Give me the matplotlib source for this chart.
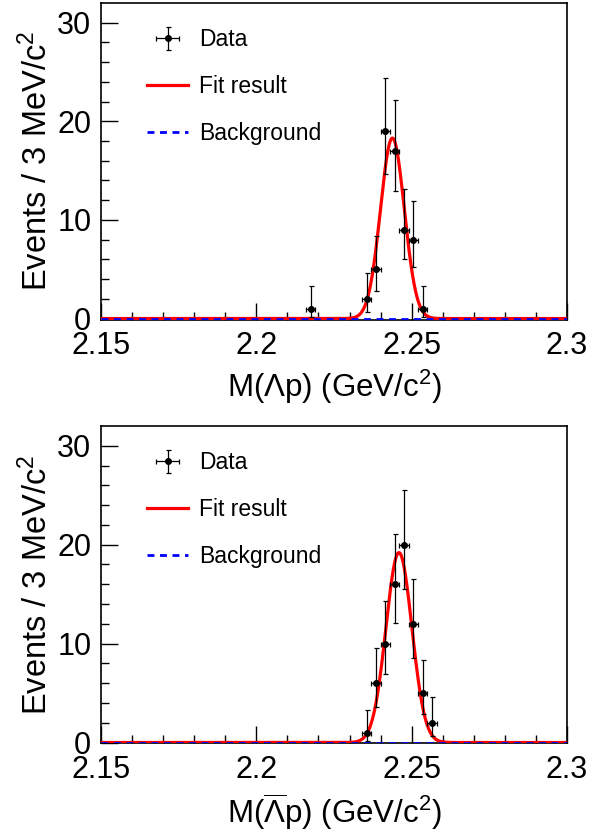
import math
import numpy as np
import matplotlib
matplotlib.use("Agg")
from matplotlib import pyplot as plt

plt.rcParams['font.family'] = ['Liberation Sans', 'DejaVu Sans']
plt.rcParams['mathtext.fontset'] = 'custom'
plt.rcParams['mathtext.rm'] = 'Liberation Sans'
plt.rcParams['mathtext.it'] = 'Liberation Sans:italic'

# bin centres (GeV) and counts, 3 MeV bins
x_top = [2.2175, 2.2355, 2.2385, 2.2415, 2.2445, 2.2475, 2.2505, 2.2535]
n_top = [1, 2, 5, 19, 17, 9, 8, 1]
x_bot = [2.2355, 2.2385, 2.2415, 2.2445, 2.2475, 2.2505, 2.2535, 2.2565]
n_bot = [1, 6, 10, 16, 20, 12, 5, 2]

# fitted gaussian: peak height, mean, sigma ; flat background
fit_top = (18.3, 2.2438, 0.00384)
fit_bot = (19.2, 2.2459, 0.00417)
bkg_top = 0.0
bkg_bot = 0.0

bin_w = 0.003
xlabels = ["M(Λp) (GeV/c$^{2}$)", r"M($\overline{\mathrm{Λ}}$p) (GeV/c$^{2}$)"]


def pois_cdf(n, mu):
    s = 0.0
    term = math.exp(-mu)
    for k in range(n + 1):
        if k > 0:
            term *= mu / k
        s += term
    return s


def solve(f, lo, hi):
    for _ in range(80):
        mid = 0.5 * (lo + hi)
        if f(mid) > 0:
            lo = mid
        else:
            hi = mid
    return 0.5 * (lo + hi)


def garwood(n):
    a = 0.1587
    up = solve(lambda m: pois_cdf(n, m) - a, 0.0, 100.0)
    if n == 0:
        low = 0.0
    else:
        low = solve(lambda m: pois_cdf(n - 1, m) - (1 - a), 0.0, 100.0)
    return n - low, up - n


def draw(ax, xs, ns, fit, bkg, xlabel):
    errs = [garwood(n) for n in ns]
    lo = [e[0] for e in errs]
    hi = [e[1] for e in errs]
    xx = np.linspace(2.15, 2.3, 800)
    amp, mu, sig = fit
    sigcurve = amp * np.exp(-0.5 * ((xx - mu) / sig) ** 2)
    ax.plot(xx, sigcurve + bkg, color='red', lw=2.3, zorder=3, label='Fit result')
    ax.plot(xx, np.full_like(xx, bkg), color='blue', lw=2.0, ls=(0, (2.5, 2)),
            zorder=4, label='Background')
    ax.errorbar(xs, ns, yerr=[lo, hi], xerr=bin_w / 2, fmt='o', color='black',
                ms=4, elinewidth=0.9, capsize=1.8, capthick=0.9, zorder=5,
                label='Data')
    ax.set_xlim(2.15, 2.3)
    ax.set_ylim(-0.1, 32.0)
    ax.set_xticks([2.15, 2.2, 2.25, 2.3])
    ax.set_xticklabels(['2.15', '2.2', '2.25', '2.3'])
    ax.set_xticks(np.arange(2.16, 2.3, 0.01), minor=True)
    ax.set_yticks([0, 10, 20, 30])
    ax.set_yticks([2, 4, 6, 8, 12, 14, 16, 18, 22, 24, 26, 28], minor=True)
    ax.tick_params(which='both', direction='in', top=False, right=False,
                   labelsize=22, width=1)
    ax.tick_params(which='major', length=12)
    ax.tick_params(axis='x', which='major', pad=8)
    ax.tick_params(axis='y', which='major', pad=7)
    ax.tick_params(which='minor', length=6)
    for s in ax.spines.values():
        s.set_linewidth(1.2)
    ax.set_xlabel(xlabel, fontsize=22.5, labelpad=5)
    ax.set_ylabel("Events / 3 MeV/c$^{2}$", fontsize=23.5, labelpad=2)
    h, l = ax.get_legend_handles_labels()
    order = [l.index('Data'), l.index('Fit result'), l.index('Background')]
    ax.legend([h[i] for i in order], [l[i] for i in order], loc='upper left',
              bbox_to_anchor=(0.099, 0.92), frameon=False, fontsize=16.5,
              borderpad=0, borderaxespad=0, handlelength=1.8,
              handletextpad=0.45, labelspacing=1.05)


fig = plt.figure(figsize=(5.9, 8.31), dpi=100)
ax1 = fig.add_axes([0.1712, 0.6155, 0.7898, 0.3809])
ax2 = fig.add_axes([0.1712, 0.1053, 0.7898, 0.3821])
draw(ax1, x_top, n_top, fit_top, bkg_top, xlabels[0])
draw(ax2, x_bot, n_bot, fit_bot, bkg_bot, xlabels[1])

fig.savefig("out.png", dpi=100)
